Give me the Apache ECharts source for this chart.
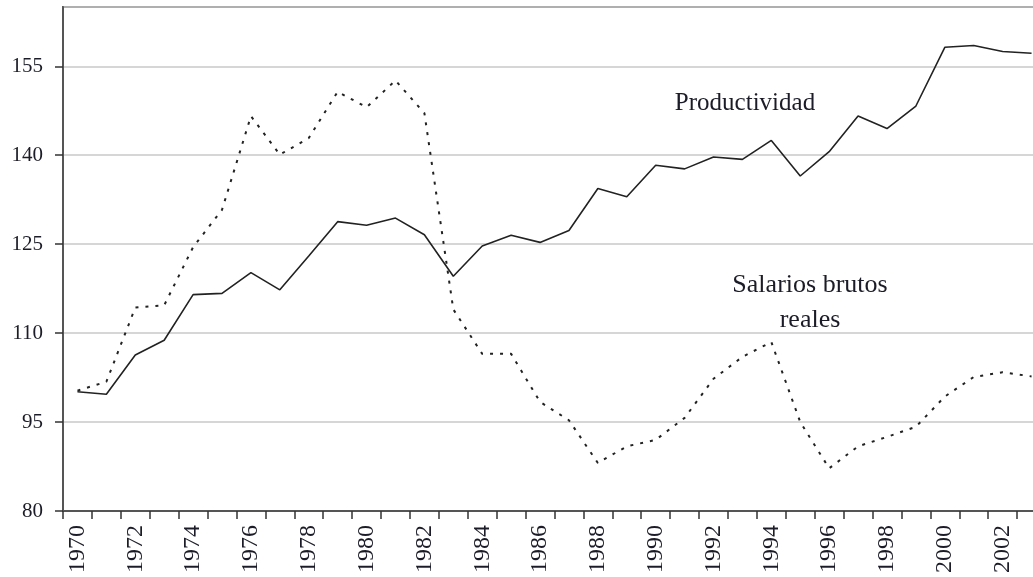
<!DOCTYPE html>
<html>
<head>
<meta charset="utf-8">
<script src="https://cdn.jsdelivr.net/npm/echarts@6/dist/echarts.min.js"></script>
<style>
  html, body { margin: 0; padding: 0; background: #fff; overflow: hidden; }
  #wrap { width: 1033px; height: 577px; overflow: hidden; }
  #main { width: 1047px; height: 577px; }
</style>
</head>
<body>
<div id="wrap"><div id="main"></div></div>
<script>
var years = ['1970','1971','1972','1973','1974','1975','1976','1977','1978','1979',
  '1980','1981','1982','1983','1984','1985','1986','1987','1988','1989',
  '1990','1991','1992','1993','1994','1995','1996','1997','1998','1999',
  '2000','2001','2002','2003'];

var productividad = [100.1, 99.7, 106.3, 108.8, 116.5, 116.7, 120.2, 117.3, 123.0, 128.8,
  128.2, 129.4, 126.6, 119.6, 124.7, 126.5, 125.3, 127.3, 134.4, 133.0,
  138.3, 137.7, 139.7, 139.3, 142.5, 136.5, 140.6, 146.6, 144.5, 148.3,
  158.2, 158.5, 157.5, 157.2];

var salarios = [100.3, 101.8, 114.3, 114.7, 124.5, 130.8, 146.6, 140.1, 142.9, 150.7,
  148.1, 152.6, 147.1, 114.0, 106.5, 106.5, 98.4, 95.3, 88.1, 90.9,
  92.0, 95.7, 102.3, 106.0, 108.5, 95.0, 87.2, 90.9, 92.5, 94.2,
  99.3, 102.6, 103.4, 102.7];

var yTicks = { min: 80, max: 165, step: 15 };

var serif = '"Liberation Serif", "DejaVu Serif", serif';
var textColor = '#1c1c28';

// chart canvas is a little wider than the page: the last year is cut off like in the source
var chart = echarts.init(document.getElementById('main'));

var option = {
  animation: false,
  backgroundColor: '#fff',
  grid: {
    left: 63,
    top: 7,
    bottom: 66,
    right: 1,
    show: true,
    borderColor: '#666',
    borderWidth: 2
  },
  xAxis: {
    type: 'category',
    data: years,
    boundaryGap: true,
    axisLine: { lineStyle: { color: '#555', width: 2 } },
    axisTick: { show: true, interval: 0, length: 8, lineStyle: { color: '#333', width: 1.5 } },
    axisLabel: {
      interval: 1,
      rotate: 90,
      margin: 14,
      fontFamily: serif,
      fontSize: 24,
      color: textColor
    },
    splitLine: { show: false }
  },
  yAxis: {
    type: 'value',
    min: yTicks.min,
    max: yTicks.max,
    interval: yTicks.step,
    axisLine: { show: true, lineStyle: { color: '#555', width: 2 } },
    axisTick: { show: true, length: 8, lineStyle: { color: '#333', width: 1.5 } },
    axisLabel: {
      showMaxLabel: false,
      margin: 20,
      fontFamily: serif,
      fontSize: 21,
      color: textColor
    },
    splitLine: { show: true, lineStyle: { color: '#c8c8c8', width: 1.5 } }
  },
  series: [
    {
      name: 'Productividad',
      type: 'line',
      data: productividad,
      symbol: 'none',
      lineStyle: { color: '#222', width: 1.6, type: 'solid' },
      z: 3
    },
    {
      name: 'Salarios brutos reales',
      type: 'line',
      data: salarios,
      symbol: 'none',
      lineStyle: { color: '#222', width: 2, type: [3, 7] },
      z: 2
    }
  ],
  graphic: [
    {
      type: 'text',
      x: 745,
      y: 103,
      style: {
        text: 'Productividad',
        font: '25px ' + serif,
        fill: textColor,
        align: 'center',
        verticalAlign: 'middle'
      }
    },
    {
      type: 'text',
      x: 810,
      y: 285,
      style: {
        text: 'Salarios brutos',
        font: '26px ' + serif,
        fill: textColor,
        align: 'center',
        verticalAlign: 'middle'
      }
    },
    {
      type: 'text',
      x: 810,
      y: 320,
      style: {
        text: 'reales',
        font: '26px ' + serif,
        fill: textColor,
        align: 'center',
        verticalAlign: 'middle'
      }
    }
  ]
};

chart.setOption(option);
</script>
</body>
</html>
